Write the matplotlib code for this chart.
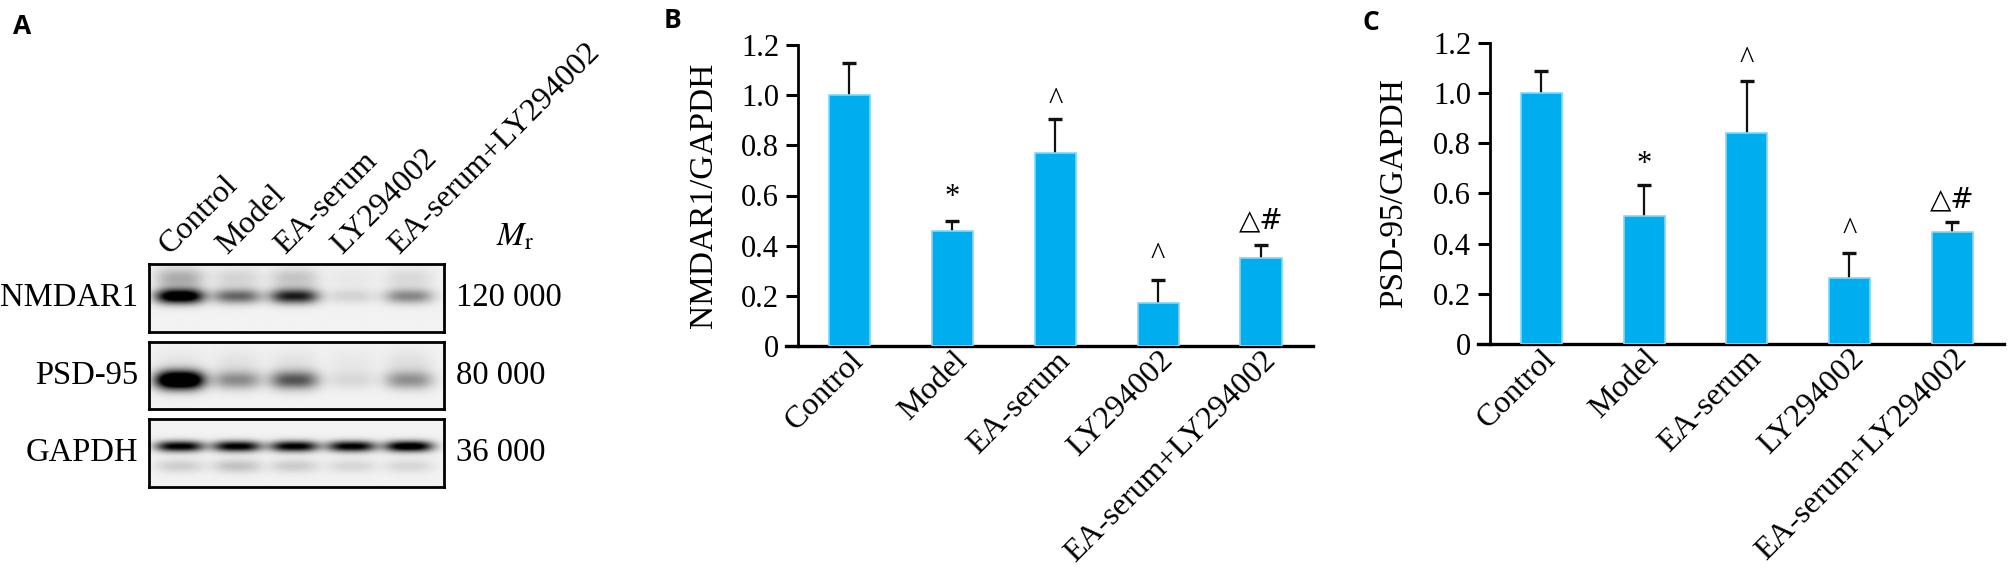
import numpy as np
import matplotlib
matplotlib.use('Agg')
import matplotlib.pyplot as plt
from matplotlib.transforms import blended_transform_factory, ScaledTranslation

plt.rcParams['font.family'] = ['Liberation Serif', 'DejaVu Serif']
plt.rcParams['mathtext.fontset'] = 'stix'

groups = ['Control', 'Model', 'EA-serum', 'LY294002', 'EA-serum+LY294002']

# panel B: NMDAR1/GAPDH
nmdar1_mean = [1.00, 0.458, 0.768, 0.170, 0.350]
nmdar1_err = [0.129, 0.042, 0.136, 0.093, 0.052]
nmdar1_marks = ['', '*', '^', '^', '△#']
nmdar1_mark_y = [0, 0.624, 1.007, 0.387, 0.506]

# panel C: PSD-95/GAPDH
psd95_mean = [1.00, 0.511, 0.840, 0.264, 0.446]
psd95_err = [0.087, 0.121, 0.209, 0.097, 0.041]
psd95_marks = ['', '*', '^', '^', '△#']
psd95_mark_y = [0, 0.746, 1.162, 0.478, 0.584]

yticks = [0, 0.2, 0.4, 0.6, 0.8, 1.0, 1.2]
ytick_labels = ['0', '0.2', '0.4', '0.6', '0.8', '1.0', '1.2']

# panel A: western blot
blot_rows = ['NMDAR1', 'PSD-95', 'GAPDH']
blot_mr = ['120 000', '80 000', '36 000']
band_main = [[1.2, 0.55, 0.85, 0.12, 0.42],
             [1.5, 0.40, 0.62, 0.10, 0.38],
             [1.0, 1.0, 1.0, 1.0, 1.1]]
band_faint = [[0.28, 0.12, 0.18, 0.04, 0.10],
              [0.05, 0.06, 0.06, 0.04, 0.07],
              [0.14, 0.19, 0.15, 0.11, 0.11]]

W, H = 2010, 582
fig = plt.figure(figsize=(W / 100, H / 100), dpi=100)


def px_axes(l, t, r, b):
    return fig.add_axes([l / W, 1 - b / H, (r - l) / W, (b - t) / H])


# ---------- A ----------
band_shape = [(0.49, 0.11, 0.22, 0.16), (0.57, 0.14, 0.30, 0.20), (0.41, 0.08, 0.70, 0.10)]
boxes = [(264, 331.5), (342, 409), (419, 487)]
x0, x1 = -0.53, 4.62
xs = np.linspace(x0, x1, 300)
ys = np.linspace(0, 1, 70)
X, Y = np.meshgrid(xs, ys)
for k in range(3):
    t, b = boxes[k]
    ax = px_axes(148.5, t, 444, b)
    yc, sy, fyc, fsy = band_shape[k]
    img = np.full(X.shape, 0.05)
    for i in range(len(groups)):
        prof = np.exp(-np.abs((X - i) / 0.42) ** 3)
        img += band_main[k][i] * prof * np.exp(-((Y - yc) / sy) ** 2)
        img += band_faint[k][i] * prof * np.exp(-((Y - fyc) / fsy) ** 2)
    ax.imshow(np.clip(img, 0, 1), cmap='gray_r', vmin=0, vmax=1, extent=(x0, x1, 1, 0),
              aspect='auto', interpolation='bilinear')
    ax.set_xlim(x0, x1)
    ax.set_ylim(1, 0)
    ax.set_xticks([])
    ax.set_yticks([])
    for s in ax.spines.values():
        s.set_linewidth(2.0)
    fig.text(138 / W, 1 - (t + b) / 2 / H, blot_rows[k], ha='right', va='center', fontsize=23.5)
    fig.text(456 / W, 1 - (t + b) / 2 / H, blot_mr[k], ha='left', va='center', fontsize=23.5)
    if k == 0:
        tr = blended_transform_factory(ax.transData, ax.transAxes)
        for i, g in enumerate(groups):
            lab = ax.text(i, 1.0, g, transform=tr, rotation=45, rotation_mode='anchor',
                          ha='left', va='bottom', fontsize=23)
            lab.set_transform(tr + ScaledTranslation(-0.04, 0.04, fig.dpi_scale_trans))

fig.text(496 / W, 1 - 245 / H, r'$M_{\mathrm{r}}$', ha='left', va='baseline', fontsize=24)


# ---------- B, C ----------
def bar_panel(box, mean, err, marks, mark_y, ylabel, ylab_xy):
    ax = px_axes(*box)
    x = np.arange(len(groups))
    mean = np.array(mean)
    top = mean + np.array(err)
    ax.vlines(x, mean, top, color='#111111', lw=1.6, zorder=2)
    ax.plot(x, top, ls='none', marker='_', ms=10, mew=2.4, color='#111111', zorder=2)
    ax.bar(x, mean, width=0.4, color='#00aeef', edgecolor='#86d6f5', linewidth=1.2, zorder=3)
    for i, m in enumerate(marks):
        if not m:
            continue
        if m == '△#':
            ax.annotate(m, (i, mark_y[i]), xytext=(0, -7), textcoords='offset points',
                        ha='center', va='baseline', fontsize=20, family='DejaVu Sans')
        else:
            ax.annotate(m, (i, mark_y[i]), xytext=(0, -11), textcoords='offset points',
                        ha='center', va='baseline', fontsize=22)
    ax.set_xlim(-0.5, 4.5)
    ax.set_ylim(0, 1.2)
    ax.set_yticks(yticks, ytick_labels, fontsize=22)
    ax.set_xticks(x, groups, rotation=45, ha='right', va='top', rotation_mode='anchor', fontsize=23)
    for lab in ax.get_xticklabels():
        lab.set_transform(lab.get_transform() + ScaledTranslation(0.07, -0.14, fig.dpi_scale_trans))
    ax.tick_params(axis='y', length=8.6, width=2.2, pad=5)
    ax.tick_params(axis='x', length=0, pad=0)
    for s in ['top', 'right']:
        ax.spines[s].set_visible(False)
    ax.spines['left'].set_linewidth(2.0)
    ax.spines['bottom'].set_linewidth(2.4)
    ax.plot([-0.024, 0], [0, 0], transform=ax.transAxes, color='black', lw=2.4, clip_on=False)
    fig.text(ylab_xy[0] / W, 1 - ylab_xy[1] / H, ylabel, rotation=90, ha='center', va='center', fontsize=24)
    return ax


bar_panel((798, 45, 1312.5, 346), nmdar1_mean, nmdar1_err, nmdar1_marks, nmdar1_mark_y,
          'NMDAR1/GAPDH', (704, 195.5))
bar_panel((1490, 42.7, 2003.5, 344), psd95_mean, psd95_err, psd95_marks, psd95_mark_y,
          'PSD-95/GAPDH', (1394, 193))

for lab, px, py in [('A', 13, 27), ('B', 664, 21), ('C', 1362, 22)]:
    fig.text(px / W, 1 - py / H, lab, ha='left', va='center', fontsize=19,
             family='Open Sans', fontweight='bold')

fig.savefig('out.png', dpi=100)
